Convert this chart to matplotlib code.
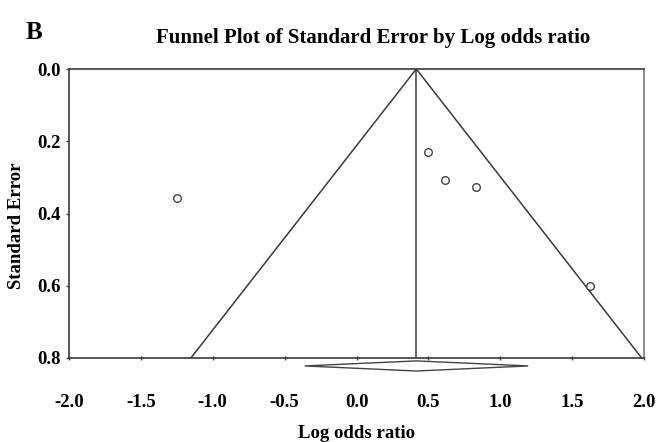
import matplotlib
matplotlib.use("Agg")
import matplotlib.pyplot as plt
from matplotlib.patches import Polygon

# Data
log_or = [-1.25, 0.50, 0.615, 0.83, 1.625]
std_err = [0.357, 0.230, 0.307, 0.327, 0.601]
pooled = 0.416
ci_low, ci_high = -0.36, 1.195
se_max = 0.8

x_ticks = [-2.0, -1.5, -1.0, -0.5, 0.0, 0.5, 1.0, 1.5, 2.0]
y_ticks = [0.0, 0.2, 0.4, 0.6, 0.8]

plt.rcParams['font.family'] = ['Liberation Serif', 'DejaVu Serif']
plt.rcParams['font.weight'] = 'bold'

fig = plt.figure(figsize=(6.58, 4.42), dpi=100)
ax = fig.add_axes([69/658, 1-358/442, 575/658, 289/442])

lc = '#3a3a3a'
# funnel
ax.plot([pooled - 1.96*se_max, pooled, pooled + 1.96*se_max], [se_max, 0, se_max],
        color=lc, lw=1.1, clip_on=False)
ax.plot([pooled, pooled], [0, se_max], color=lc, lw=1.1)

ax.scatter(log_or, std_err, s=30, facecolors='white', edgecolors='#444444', linewidths=1.0, zorder=3)

# diamond below axis
dy_c, dh = 0.822, 0.014
diamond = Polygon([[ci_low, dy_c], [pooled, dy_c - dh], [ci_high, dy_c], [pooled, dy_c + dh]],
                  closed=True, facecolor='white', edgecolor='#444444', lw=1.0, clip_on=False)
ax.add_patch(diamond)

ax.set_xlim(-2.0, 2.0)
ax.set_ylim(0.8, 0.0)
ax.set_xticks(x_ticks)
ax.set_xticklabels([f"{v:.1f}" for v in x_ticks])
ax.set_yticks(y_ticks)
ax.set_yticklabels([f"{v:.1f}" for v in y_ticks])

for s in ax.spines.values():
    s.set_color(lc)
    s.set_linewidth(1.2)
ax.spines['right'].set_color('#777777')

ax.tick_params(axis='x', direction='inout', length=3.4, width=1, color=lc, pad=24, labelsize=13.5)
ax.tick_params(axis='y', direction='out', length=2.2, width=1, color=lc, pad=4, labelsize=13.5)
for lab in ax.get_xticklabels() + ax.get_yticklabels():
    lab.set_fontweight('bold')

ax.set_xlabel('Log odds ratio', fontsize=13.5, fontweight='bold')
ax.xaxis.set_label_coords(0.5, -(433-358)/289)
ax.xaxis.label.set_va('center')
ax.set_ylabel('Standard Error', fontsize=13.5, fontweight='bold')
ax.yaxis.set_label_coords((17-69)/575, 1-(226-69)/289)
ax.yaxis.label.set_va('center')

fig.text(156/658, 1-43/442, 'Funnel Plot of Standard Error by Log odds ratio',
         ha='left', va='baseline', fontsize=15, fontweight='bold')
fig.text(26/658, 1-39/442, 'B', ha='left', va='baseline', fontsize=18, fontweight='bold')

fig.savefig('out.png', dpi=100)
